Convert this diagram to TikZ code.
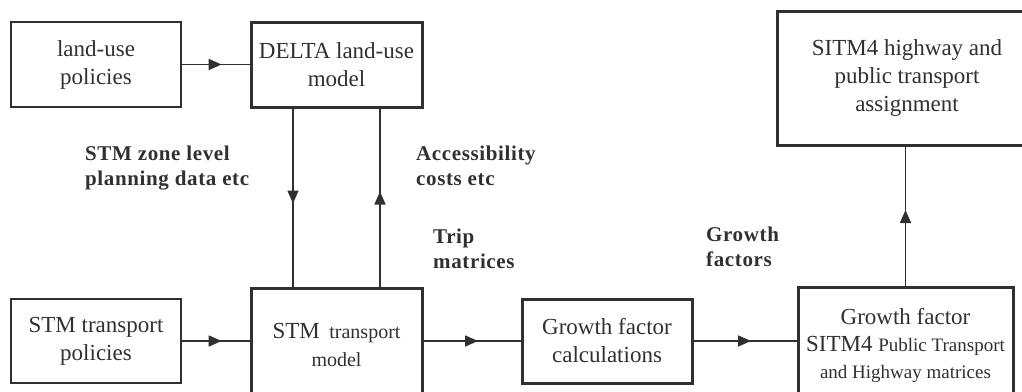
\documentclass[tikz,border=0pt]{standalone}
\usepackage{fontspec}
\setmainfont{Liberation Serif}
\newfontfamily\lblfont[LetterSpace=3]{Liberation Serif}
\usetikzlibrary{arrows.meta,decorations.markings}
\definecolor{ink}{HTML}{303030}
\begin{document}
\begin{tikzpicture}[x=1pt,y=-1pt,
  every node/.style={text=ink},
  thinbox/.style={draw=ink,line width=1.5pt,align=center,inner sep=0pt,font=\fontsize{23}{28}\selectfont},
  thickbox/.style={draw=ink,line width=3pt,align=center,inner sep=0pt,font=\fontsize{23}{28}\selectfont},
  lbl/.style={anchor=base west,align=left,inner sep=0pt,font=\lblfont\bfseries\fontsize{21}{24.5}\selectfont},
  flow/.style={draw=ink,line width=1.6pt,postaction={decorate},
    decoration={markings,mark=at position 0.5 with {\arrow[xshift=6pt]{Triangle[length=13pt,width=11pt]}}}}
]
\useasboundingbox (0,0) rectangle (1022,391);
\node[thinbox,minimum width=170pt,minimum height=85pt] (lup) at (96,64.5) {land-use\\policies};
\node[thickbox,minimum width=171pt,minimum height=85pt] (delta) at (336.5,64.5) {DELTA land-use\\model};
\node[thinbox,minimum width=170pt,minimum height=84pt] (stp) at (96,341) {STM transport\\policies};
\node[thickbox,minimum width=171pt,minimum height=114pt] (stm) at (336.5,345) {STM\, {\fontsize{20}{27}\selectfont transport}\\{\fontsize{20}{27}\selectfont model}};
\node[thickbox,minimum width=170pt,minimum height=84pt] (gfc) at (607,341) {Growth factor\\calculations};
\node[thickbox,minimum width=215pt,minimum height=116pt,font=\fontsize{23}{27}\selectfont] (gfs) at (905.5,345) {Growth factor\\SITM4 {\fontsize{19}{27}\selectfont Public Transport}\\{\fontsize{19}{24}\selectfont and Highway matrices}};
\node[thickbox,minimum width=260pt,minimum height=134pt] (sitm) at (907,78) {SITM4 highway and\\public transport\\assignment};
\draw[flow] (lup.east) -- (delta.west);
\draw[flow] (stp.east) -- (stp.east -| stm.west);
\draw[flow] (gfc.west -| stm.east) -- (gfc.west);
\draw[flow] (gfc.east) -- (gfc.east -| gfs.west);
\draw[flow] (gfs.north) -- (gfs.north |- sitm.south);
\draw[flow] ([xshift=-43.5pt]delta.south) -- ([xshift=-43.5pt]delta.south |- stm.north);
\draw[flow] ([xshift=43.5pt]stm.north) -- ([xshift=43.5pt]stm.north |- delta.south);
\node[lbl] (l1) at (85,185) {STM zone level\\planning data etc};
\node[lbl] (l2) at (416,185) {Accessibility\\costs etc};
\node[lbl] (l3) at (433,268) {Trip\\matrices};
\node[lbl] (l4) at (706,266) {Growth\\factors};
\end{tikzpicture}
\end{document}
